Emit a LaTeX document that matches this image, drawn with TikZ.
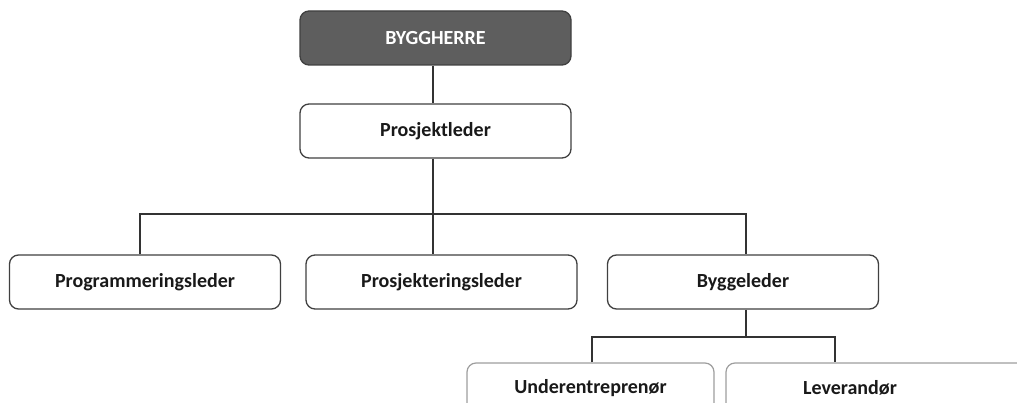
\documentclass[tikz,border=0pt]{standalone}
\usepackage{fontspec}
\setmainfont{Carlito}
\begin{document}
\begin{tikzpicture}[x=1pt,y=-1pt,
  box/.style={draw=black!75, line width=1.3pt, rounded corners=9pt, fill=white,
    minimum width=271pt, minimum height=54pt, inner sep=0pt,
    font=\fontsize{20}{24}\selectfont\bfseries, text=black!90},
  topbox/.style={box, fill=black!63, text=white},
  botbox/.style={box, draw=black!38, line width=1.2pt, minimum height=50pt},
  conn/.style={draw=black!80, line width=1.5pt}]
\useasboundingbox (0,0) rectangle (1017,403);
\clip (0,0) rectangle (1017,403);
\node[topbox] (bh) at (435.5,38) {BYGGHERRE};
\node[box] (pl) at (435.5,131) {Prosjektleder};
\node[box] (prog) at (145,282) {Programmeringsleder};
\node[box] (prosj) at (441.5,282) {Prosjekteringsleder};
\node[box] (bygg) at (743,282) {Byggeleder};
\node[botbox, minimum width=247pt] (under) at (590.5,388) {Underentreprenør};
\node[botbox, minimum width=304pt,
  label={[font=\fontsize{20}{24}\selectfont\bfseries, text=black!90, xshift=-28pt]center:Leverandør}]
  (lev) at (878,388) {};
\coordinate (j1) at (433,214);
\coordinate (j2) at (746,337);
\draw[conn] (bh.south -| 433,0) -- (pl.north -| 433,0);
\draw[conn] (pl.south -| 433,0) -- (j1);
\draw[conn] (prog.north -| 140,0) |- (j1);
\draw[conn] (j1) -- (prosj.north -| 433,0);
\draw[conn] (j1) -| (bygg.north -| 746,0);
\draw[conn] (bygg.south -| 746,0) -- (j2);
\draw[conn] (under.north -| 592,0) |- (j2);
\draw[conn] (j2) -| (lev.north -| 835,0);
\end{tikzpicture}
\end{document}
